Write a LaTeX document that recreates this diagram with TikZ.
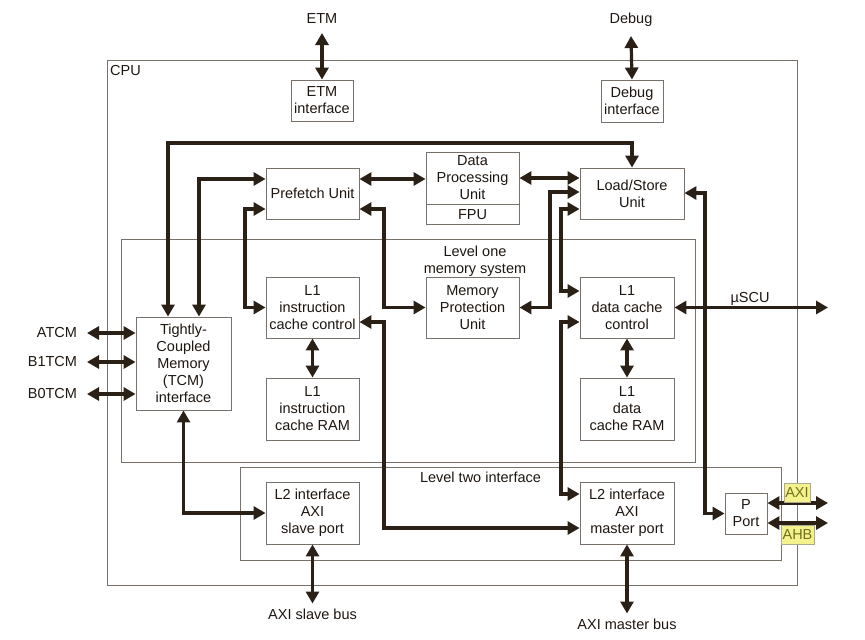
\documentclass[tikz,border=0pt]{standalone}
\usepackage{fontspec}
\setmainfont{Liberation Sans}
\usepackage{xcolor}
\usepackage{tikz}
\usetikzlibrary{positioning,calc,arrows.meta}
\definecolor{CInk}{HTML}{1E1610}
\definecolor{CEdge}{HTML}{77716A}
\definecolor{CWire}{HTML}{2A2016}
\definecolor{CTag}{HTML}{F3F28C}
\definecolor{CTagInk}{HTML}{727020}
\definecolor{CTagEdge}{HTML}{ACAA8C}

\begin{document}
\begin{tikzpicture}[x=1pt, y=-1pt,
  font={\fontsize{14.5pt}{17pt}\selectfont}, text=CInk,
  unit/.style={draw=CEdge, line width=0.9pt, fill=white, align=center, inner sep=0pt},
  region/.style={draw=CEdge, line width=0.9pt},
  busname/.style={inner sep=0pt, outer sep=10pt},
  link/.style={draw=CWire, line width=3.2pt,
    {Triangle[length=12pt,width=13pt]}-{Triangle[length=12pt,width=13pt]}},
  tag/.style={fill=CTag, draw=CTagEdge, line width=0.6pt, text=CTagInk, inner sep=1.5pt, minimum height=19pt}]
\useasboundingbox (0,0) rectangle (865,640);
% regions
\draw[region] (107,60) rectangle (797,585);
\draw[region] (121,239) rectangle (695,462);
\draw[region] (240,467) rectangle (781,560);
\node[anchor=base west, inner sep=0pt] (cpu) at (110,75) {CPU};
\node[align=center, inner sep=0pt] (lone) at (475,261) {Level one\\memory system};
\node[anchor=base, inner sep=0pt] (ltwo) at (480.5,482) {Level two interface};
% units
\node[unit, minimum width=62, minimum height=41] (etm) at (322,100.5) {ETM\\interface};
\node[unit, minimum width=62, minimum height=42] (dbg) at (632,101) {Debug\\interface};
\node[unit, minimum width=93, minimum height=51] (pf) at (312.5,193.5) {Prefetch Unit};
\node[unit, minimum width=93, minimum height=52] (dpu) at (472.5,178) {Data\\Processing\\Unit};
\node[unit, minimum width=93, minimum height=20, below=0pt of dpu] (fpu) {FPU};
\node[unit, minimum width=104, minimum height=51] (lsu) at (632,193.5) {Load/Store\\Unit};
\node[unit, minimum width=95, minimum height=93] (tcm) at (183.5,363.5) {Tightly-\\Coupled\\Memory\\(TCM)\\interface};
\node[unit, minimum width=93, minimum height=61] (icc) at (312.5,307.5) {L1\\instruction\\cache control};
\node[unit, minimum width=93, minimum height=62] (iram) at (312.5,409) {L1\\instruction\\cache RAM};
\node[unit, minimum width=93, minimum height=61] (mpu) at (472.5,307.5) {Memory\\Protection\\Unit};
\node[unit, minimum width=94, minimum height=61] (dcc) at (627,307.5) {L1\\data cache\\control};
\node[unit, minimum width=94, minimum height=62] (dram) at (627,409) {L1\\data\\cache RAM};
\node[unit, minimum width=93, minimum height=62] (l2s) at (312.5,513) {L2 interface\\AXI\\slave port};
\node[unit, minimum width=94, minimum height=62] (l2m) at (627,513) {L2 interface\\AXI\\master port};
\node[unit, minimum width=42, minimum height=41] (pport) at (746,513.5) {P\\Port};
% outside names
\node[busname, anchor=base] (etmbus) at (322,23) {ETM};
\node[busname, anchor=base] (dbgbus) at (631,23) {Debug};
\node[busname, anchor=east] (atcm) at (87,333) {ATCM};
\node[busname, anchor=east] (bonetcm) at (87,362) {B1TCM};
\node[busname, anchor=east] (bzerotcm) at (87,394) {B0TCM};
\node[busname, outer sep=5pt, anchor=base] (slavebus) at (312.5,619) {AXI slave bus};
\node[busname, outer sep=5pt, anchor=base] (masterbus) at (627,629) {AXI master bus};
\node[anchor=base, inner sep=0pt] (scu) at (750,302) {µSCU};
\coordinate (scuend) at (828,307.5);
\coordinate (axiend) at (828,503);
\coordinate (ahbend) at (828,523);
% connectors
\draw[link] (etmbus.south) -- (etm.north);
\draw[link] (dbgbus.south) -- (dbg.north);
\draw[link] (tcm.north -| 168,0) -- (168,143) -| (lsu.north);
\draw[link] (tcm.north -| 199,0) |- (pf.west |- 0,179);
\draw[link] (pf.east |- 0,179) -- (dpu.west |- 0,179);
\draw[link] (dpu.east |- 0,178) -- (lsu.west |- 0,178);
\draw[link] (pf.west |- 0,209) -- (245,209) |- (icc.west);
\draw[link] (pf.east |- 0,209) -- (384,209) |- (mpu.west);
\draw[link] (mpu.east) -- (550,307.5) |- (lsu.west |- 0,192);
\draw[link] (lsu.west |- 0,209) -- (561,209) |- (dcc.west |- 0,291);
\draw[link] (dcc.west |- 0,322) -- (561,322) |- (l2m.west |- 0,494);
\draw[link] (icc.east |- 0,322) -- (384,322) |- (l2m.west |- 0,528);
\draw[link] (tcm.south) |- (l2s.west);
\draw[link] (icc.south) -- (iram.north);
\draw[link] (dcc.south) -- (dram.north);
\draw[link] (l2s.south) -- (slavebus.north);
\draw[link] (l2m.south) -- (masterbus.north);
\draw[link] (dcc.east) -- (scuend);
\draw[link] (lsu.east |- 0,193) -- (705,193) |- (pport.west);
\draw[link] (pport.east |- 0,503) -- (axiend);
\draw[link] (pport.east |- 0,523) -- (ahbend);
\draw[link] (atcm.east) -- (atcm.east -| tcm.west);
\draw[link] (bonetcm.east) -- (bonetcm.east -| tcm.west);
\draw[link] (bzerotcm.east) -- (bzerotcm.east -| tcm.west);
% bus tags
\node[tag] (axitag) at (797,492.5) {AXI};
\node[tag] (ahbtag) at (797.5,535) {AHB};
\end{tikzpicture}
\end{document}
